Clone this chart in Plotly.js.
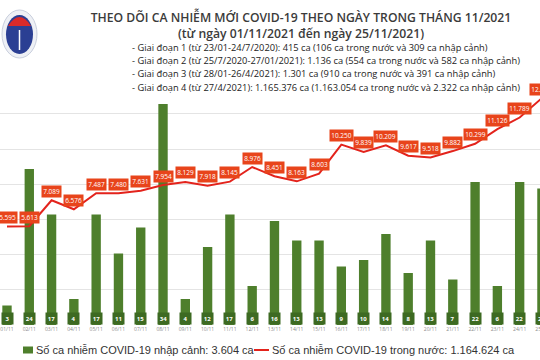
<!DOCTYPE html>
<html>
<head>
<meta charset="utf-8">
<script src="https://cdn.plot.ly/plotly-3.0.1.min.js"></script>
<style>
html, body { margin: 0; padding: 0; overflow: hidden; background: #ffffff; }
#chart { width: 560px; height: 360px; }
</style>
</head>
<body>
<div id="chart"></div>
<script>
// ---- data ----
const categories = ['01/11','02/11','03/11','04/11','05/11','06/11','07/11','08/11','09/11','10/11',
  '11/11','12/11','13/11','14/11','15/11','16/11','17/11','18/11','19/11','20/11',
  '21/11','22/11','23/11','24/11','25/11'];
const importedCases = [3,24,17,4,17,11,15,34,4,12,17,6,16,13,13,9,10,14,8,13,7,22,6,22,21];
const domesticCases = [5595,5613,7089,6576,7487,7480,7631,7954,8129,7918,8145,8976,8451,8163,8603,
  10250,9839,10209,9617,9518,9882,10299,11126,11789,12896];
const gridValues = [0,2000,4000,6000,8000,10000,12000];
const titleLines = ['THEO DÕI CA NHIỄM MỚI COVID-19 THEO NGÀY TRONG THÁNG 11/2021',
  '(từ ngày 01/11/2021 đến ngày 25/11/2021)'];
const phaseNotes = [
  '- Giai đoạn 1 (từ 23/01-24/7/2020): 415 ca (106 ca trong nước và 309 ca nhập cảnh)',
  '- Giai đoạn 2 (từ 25/7/2020-27/01/2021): 1.136 ca (554 ca trong nước và 582 ca nhập cảnh)',
  '- Giai đoạn 3 (từ 28/01-26/4/2021): 1.301 ca (910 ca trong nước và 391 ca nhập cảnh)',
  '- Giai đoạn 4 (từ 27/4/2021): 1.165.376 ca (1.163.054 ca trong nước và 2.322 ca nhập cảnh)'];
const legendNames = ['Số ca nhiễm COVID-19 nhập cảnh: 3.604 ca', 'Số ca nhiễm COVID-19 trong nước: 1.164.624 ca'];

// ---- helpers ----
const W = 560, PLOT_TOP = 65, PLOT_BOTTOM = 325, PH = PLOT_BOTTOM - PLOT_TOP;
const px = x => x / W;
const py = y => (PLOT_BOTTOM - y) / PH;
function fmt(v) { return String(v).replace(/\B(?=(\d{3})+(?!\d))/g, '.'); }

const barColor = '#4e7f2c';
const barLabelBg = '#3d6a22';
const lineColor = '#e3231c';
const lineLabelBg = '#e8441b';

const traces = [
  {
    type: 'bar', name: legendNames[0], x: categories, y: importedCases,
    marker: { color: barColor }, yaxis: 'y', hoverinfo: 'x+y'
  },
  {
    type: 'scatter', mode: 'lines', name: legendNames[1], x: categories, y: domesticCases,
    line: { color: lineColor, width: 2 }, yaxis: 'y2', hoverinfo: 'x+y'
  }
];

const annotations = [];
categories.forEach((c, i) => {
  annotations.push({
    x: c, y: 0, xref: 'x', yref: 'y', text: String(importedCases[i]), showarrow: false,
    yshift: 7, bgcolor: barLabelBg, borderpad: 1.5, width: 8,
    font: { family: 'Open Sans', size: 6, color: '#ffffff', weight: 700 }
  });
  annotations.push({
    x: c, y: domesticCases[i], xref: 'x', yref: 'y2', text: fmt(domesticCases[i]), showarrow: false,
    yshift: 9, bgcolor: lineLabelBg, borderpad: 1.2,
    font: { family: 'Open Sans', size: 6.5, color: '#ffffff' }
  });
});
phaseNotes.forEach((t, i) => {
  annotations.push({
    x: px(130), y: py(47.5 + i * 13.2), xref: 'paper', yref: 'paper', xanchor: 'left', yanchor: 'middle',
    text: t, showarrow: false, font: { family: 'Open Sans', size: 9.3, color: '#222222' }
  });
});
// legend texts (legend drawn by hand to match the tight symbol spacing)
annotations.push({
  x: px(34), y: py(350), xref: 'paper', yref: 'paper', xanchor: 'left', yanchor: 'middle',
  text: legendNames[0], showarrow: false, font: { family: 'Liberation Sans', size: 11, color: '#333333' }
});
annotations.push({
  x: px(270), y: py(350), xref: 'paper', yref: 'paper', xanchor: 'left', yanchor: 'middle',
  text: legendNames[1], showarrow: false, font: { family: 'Liberation Sans', size: 11, color: '#333333' }
});

const shapes = [
  { type: 'circle', xref: 'paper', yref: 'paper', x0: px(2), x1: px(37), y0: py(58), y1: py(10),
    fillcolor: '#eef0f5', line: { color: '#c9cfdd', width: 1 } },
  { type: 'circle', xref: 'paper', yref: 'paper', x0: px(6), x1: px(33), y0: py(54), y1: py(15),
    fillcolor: '#2b3f93', line: { width: 0 } },
  { type: 'path', xref: 'paper', yref: 'paper',
    path: 'M ' + px(8) + ',' + py(26) + ' Q ' + px(19.5) + ',' + py(8) + ' ' + px(31) + ',' + py(26) + ' Z',
    fillcolor: '#d92a2a', line: { width: 0 } },
  { type: 'line', xref: 'paper', yref: 'paper', x0: px(19.5), x1: px(19.5), y0: py(50), y1: py(30),
    line: { color: '#ffffff', width: 1.5 } },
  // legend symbols
  { type: 'rect', xref: 'paper', yref: 'paper', x0: px(23), x1: px(33), y0: py(353.5), y1: py(346.5),
    fillcolor: barColor, line: { width: 0 } },
  { type: 'line', xref: 'paper', yref: 'paper', x0: px(254), x1: px(269), y0: py(350), y1: py(350),
    line: { color: lineColor, width: 2 } }
];

const layout = {
  width: W, height: 360,
  margin: { l: 0, r: 0, t: PLOT_TOP, b: 360 - PLOT_BOTTOM, pad: 0 },
  paper_bgcolor: '#ffffff', plot_bgcolor: '#ffffff',
  title: {
    text: titleLines.join('<br>'), x: px(301), xanchor: 'center', xref: 'paper',
    y: 0.938, yref: 'container', yanchor: 'top',
    font: { family: 'Open Sans', size: 12.2, color: '#3b3b3b', weight: 600 }
  },
  bargap: 0.58,
  showlegend: false,
  xaxis: {
    type: 'category', range: [-0.314, 24.81], showgrid: false, zeroline: false, ticks: '',
    tickfont: { family: 'Open Sans', size: 5, color: '#8a8a8a' }, showline: false, fixedrange: true
  },
  yaxis: {
    range: [0, 40], showgrid: false, zeroline: false, showticklabels: false, ticks: '', showline: false
  },
  yaxis2: {
    range: [0, 14773], overlaying: 'y', side: 'right', tickvals: gridValues, showticklabels: false,
    ticks: '', showgrid: true, gridcolor: '#e4e4e4', gridwidth: 1, zeroline: false, showline: false
  },
  annotations: annotations,
  shapes: shapes
};

Plotly.newPlot('chart', traces, layout, { displayModeBar: false, staticPlot: true });
</script>
</body>
</html>
